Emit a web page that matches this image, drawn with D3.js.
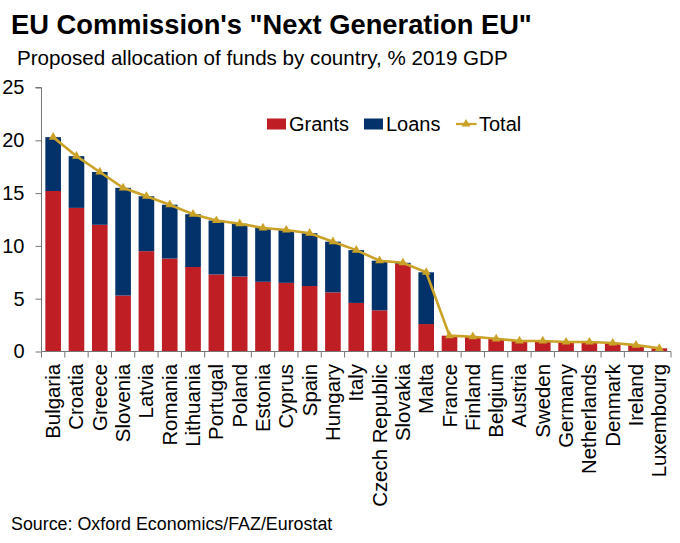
<!DOCTYPE html>
<html>
<head>
<meta charset="utf-8">
<script src="https://cdn.jsdelivr.net/npm/d3@7"></script>
<style>
body { margin: 0; background: #fff; }
text { font-family: "Liberation Sans", Arial, sans-serif; fill: #000; }
</style>
</head>
<body>
<script>
const countries = ['Bulgaria', 'Croatia', 'Greece', 'Slovenia', 'Latvia', 'Romania', 'Lithuania', 'Portugal', 'Poland',
    'Estonia', 'Cyprus', 'Spain', 'Hungary', 'Italy', 'Czech Republic', 'Slovakia', 'Malta', 'France', 'Finland',
    'Belgium', 'Austria', 'Sweden', 'Germany', 'Netherlands', 'Denmark', 'Ireland', 'Luxembourg']
const grants = [15.2, 13.6, 12.0, 5.3, 9.5, 8.8, 8.0, 7.3, 7.1, 6.6, 6.5, 6.2, 5.6, 4.6, 3.9, 8.3, 2.6,
    1.5, 1.4, 1.2, 1.0, 1.0, 0.9, 0.9, 0.8, 0.6, 0.3]
const loans = [5.1, 4.9, 5.0, 10.2, 5.2, 5.1, 5.0, 5.1, 5.0, 5.1, 5.0, 5.0, 4.8, 5.0, 4.7, 0.1, 4.9,
    0, 0, 0, 0, 0, 0, 0, 0, 0, 0]
const total = [20.3, 18.5, 17.0, 15.5, 14.7, 13.9, 13.0, 12.4, 12.1, 11.7, 11.5, 11.2, 10.4, 9.6, 8.6, 8.4, 7.5,
    1.5, 1.4, 1.2, 1.0, 1.0, 0.9, 0.9, 0.8, 0.6, 0.3]
const yTicks = [0, 5, 10, 15, 20, 25]
const legendItems = ['Grants', 'Loans', 'Total']

const red = '#be1e24', blue = '#03326a', gold = '#c9a227'
const m = { width: 680, height: 543, left: 41.5, right: 671, top: 87.5, bottom: 351.5 }

const svg = d3.select('body').append('svg')
    .attr('width', m.width)
    .attr('height', m.height)
    .style('display', 'block')

svg.append('text').attr('x', 11).attr('y', 34)
    .attr('font-size', 27.3).attr('font-weight', 'bold')
    .text('EU Commission\'s "Next Generation EU"')
svg.append('text').attr('x', 17).attr('y', 65)
    .attr('font-size', 20.6)
    .text('Proposed allocation of funds by country, % 2019 GDP')
svg.append('text').attr('x', 11).attr('y', 530)
    .attr('font-size', 17.85)
    .text('Source: Oxford Economics/FAZ/Eurostat')

const x = d3.scaleBand()
    .domain(countries)
    .range([m.left, m.right])
    .paddingInner(0.33)
    .paddingOuter(0.165)

const y = d3.scaleLinear()
    .domain([0, 25])
    .range([m.bottom, m.top])

// bars
const g = svg.append('g')
g.selectAll('.grant')
    .data(countries)
    .enter()
    .append('rect')
        .attr('class', 'grant')
        .attr('x', d => x(d))
        .attr('width', x.bandwidth())
        .attr('y', (d, i) => y(grants[i]))
        .attr('height', (d, i) => y(0) - y(grants[i]))
        .attr('fill', red)
g.selectAll('.loan')
    .data(countries)
    .enter()
    .append('rect')
        .attr('class', 'loan')
        .attr('x', d => x(d))
        .attr('width', x.bandwidth())
        .attr('y', (d, i) => y(grants[i] + loans[i]))
        .attr('height', (d, i) => y(grants[i]) - y(grants[i] + loans[i]))
        .attr('fill', blue)

// axes
const yAxis = d3.axisLeft(y).tickValues(yTicks).tickSize(6).tickPadding(11)
const gy = svg.append('g').attr('transform', `translate(${m.left},0)`).call(yAxis)
gy.selectAll('text').attr('font-size', 20)
gy.selectAll('path, line').attr('stroke', '#777')
gy.select('.domain').attr('d', `M-6,${m.top}H0V${m.bottom}`)

const xAxis = d3.axisBottom(x).tickSize(0).tickPadding(0)
const gx = svg.append('g').attr('transform', `translate(0,${m.bottom})`).call(xAxis)
gx.select('.domain').attr('stroke', '#777').attr('d', `M${m.left},0H${m.right}`)
gx.selectAll('text')
    .attr('font-size', 20.4)
    .attr('text-anchor', 'end')
    .attr('dy', 0)
    .attr('y', 0)
    .attr('transform', 'translate(7,12.5) rotate(-90)')

// tick marks sit between the categories
const step = x.step()
gx.selectAll('.sep')
    .data(d3.range(countries.length + 1))
    .enter()
    .append('line')
        .attr('class', 'sep')
        .attr('x1', i => m.left + i * step)
        .attr('x2', i => m.left + i * step)
        .attr('y1', 0)
        .attr('y2', 6)
        .attr('stroke', '#777')

// total line
const cx = (d, i) => x(countries[i]) + x.bandwidth() / 2
const line = d3.line().x(cx).y(d => y(d))
svg.append('path')
    .datum(total)
    .attr('d', line)
    .attr('fill', 'none')
    .attr('stroke', gold)
    .attr('stroke-width', 2.6)
const tri = d3.symbol().type(d3.symbolTriangle).size(34)
svg.selectAll('.marker')
    .data(total)
    .enter()
    .append('path')
        .attr('class', 'marker')
        .attr('d', tri)
        .attr('fill', gold)
        .attr('transform', (d, i) => `translate(${cx(d, i)},${y(d)})`)

// legend
const legendX = [267, 364, 456]
const legendColors = [red, blue, gold]
const legend = svg.selectAll('.legend')
    .data(legendItems)
    .enter()
    .append('g')
        .attr('class', 'legend')
        .attr('transform', (d, i) => `translate(${legendX[i]},124)`)
legend.filter(d => d !== 'Total').append('rect')
    .attr('x', 0).attr('y', -5.5).attr('width', 19).attr('height', 11)
    .attr('fill', (d, i) => legendColors[i])
legend.filter(d => d === 'Total').append('line')
    .attr('x1', 0).attr('x2', 20.5).attr('stroke', gold).attr('stroke-width', 2.3)
legend.filter(d => d === 'Total').append('path')
    .attr('d', tri).attr('fill', gold).attr('transform', 'translate(10,0)')
legend.append('text')
    .attr('x', (d, i) => i === 2 ? 23 : 22)
    .attr('y', 7)
    .attr('font-size', 20)
    .text(d => d)
</script>
</body>
</html>
